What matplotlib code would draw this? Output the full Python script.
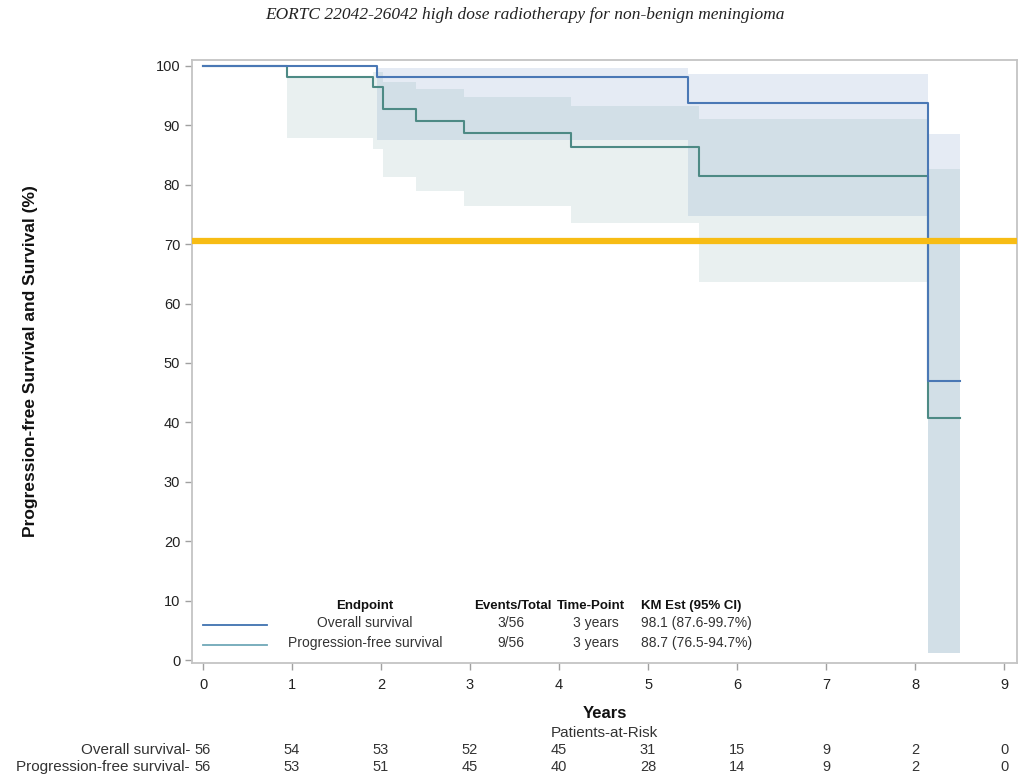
import matplotlib
matplotlib.use('Agg')
import matplotlib.pyplot as plt
from matplotlib.lines import Line2D
from matplotlib.transforms import blended_transform_factory

plt.rcParams['font.family'] = ['Liberation Sans', 'DejaVu Sans']

# Kaplan-Meier step data
os_time  = [0, 1.95, 5.45, 8.15, 8.51]
os_surv  = [100, 98.1, 93.7, 47.0, 47.0]
os_lower = [100, 87.6, 74.7, 1.2, 1.2]
os_upper = [100, 99.7, 98.6, 88.5, 88.5]

pfs_time  = [0, 0.94, 1.91, 2.02, 2.39, 2.93, 4.13, 5.57, 8.15, 8.51]
pfs_surv  = [100, 98.2, 96.4, 92.7, 90.8, 88.7, 86.4, 81.4, 40.7, 40.7]
pfs_lower = [100, 87.9, 86.0, 81.3, 78.9, 76.5, 73.6, 63.7, 1.2, 1.2]
pfs_upper = [100, 98.2, 99.0, 97.3, 96.1, 94.7, 93.2, 91.0, 82.6, 82.6]

threshold = 70.5

risk_years = [0, 1, 2, 3, 4, 5, 6, 7, 8, 9]
risk_os  = [56, 54, 53, 52, 45, 31, 15, 9, 2, 0]
risk_pfs = [56, 53, 51, 45, 40, 28, 14, 9, 2, 0]

legend_rows = [
    ('Overall survival', '3/56', '3 years', '98.1 (87.6-99.7%)'),
    ('Progression-free survival', '9/56', '3 years', '88.7 (76.5-94.7%)'),
]

OS_COLOR = '#4a78b5'
PFS_COLOR = '#4d8a85'

W, H = 1025, 778
fig = plt.figure(figsize=(W / 100, H / 100), dpi=100)
ax = fig.add_axes([192 / W, 1 - 663 / H, 825 / W, 603 / H])

# confidence bands
ax.fill_between(pfs_time, pfs_lower, pfs_upper, step='post',
                color=PFS_COLOR, alpha=0.12, lw=0)
ax.fill_between(os_time, os_lower, os_upper, step='post',
                color=OS_COLOR, alpha=0.14, lw=0)

# survival curves
ax.step(pfs_time, pfs_surv, where='post', color=PFS_COLOR, lw=1.5)
ax.step(os_time, os_surv, where='post', color=OS_COLOR, lw=1.5)

ax.axhline(threshold, color='#f7bc14', lw=4.5, zorder=5)

ax.set_xlim(-0.124, 9.146)
ax.set_ylim(-0.5, 101.0)
ax.set_xticks(range(0, 10))
ax.set_yticks(range(0, 101, 10))
ax.tick_params(axis='both', direction='out', length=5, width=1,
               color='#a0a0a0', labelsize=10.5, labelcolor='#222222')
ax.tick_params(axis='x', pad=6)
for sp in ax.spines.values():
    sp.set_color('#c4c4c4')
    sp.set_linewidth(1.3)

def fy(y):
    return 1 - y / H

fig.text(31 / W, fy(361.5), 'Progression-free Survival and Survival (%)',
         rotation=90, fontsize=12.5, fontweight='bold', ha='center',
         va='center', color='#111111')

fig.text(525 / W, fy(15),
         'EORTC 22042-26042 high dose radiotherapy for non-benign meningioma',
         family=['Liberation Serif', 'DejaVu Serif'], style='italic',
         fontsize=12.5, ha='center', va='center', color='#222222')

# in-plot legend table
hdr = dict(fontsize=9.5, fontweight='bold', va='center', color='#111111')
fig.text(365 / W, fy(606), 'Endpoint', ha='center', **hdr)
fig.text(513 / W, fy(606), 'Events/Total', ha='center', **hdr)
fig.text(591 / W, fy(606), 'Time-Point', ha='center', **hdr)
fig.text(641 / W, fy(606), 'KM Est (95% CI)', ha='left', **hdr)

row_y = [623, 643]
line_colors = ['#3f72b0', '#6fa8b8']
for (name, ev, tp, km), y, c in zip(legend_rows, row_y, line_colors):
    fig.add_artist(Line2D([203 / W, 267 / W], [fy(y + 2), fy(y + 2)],
                          color=c, lw=1.3))
    rkw = dict(fontsize=10, va='center', color='#333333')
    fig.text(365 / W, fy(y), name, ha='center', **rkw)
    fig.text(511 / W, fy(y), ev, ha='center', **rkw)
    fig.text(619 / W, fy(y), tp, ha='right', **rkw)
    fig.text(641 / W, fy(y), km, ha='left', **rkw)

# x label and patients at risk
fig.text(604.5 / W, fy(713), 'Years', ha='center', va='center',
         fontsize=12, fontweight='bold', color='#111111')
fig.text(604.5 / W, fy(733), 'Patients-at-Risk', ha='center', va='center',
         fontsize=11, color='#333333')

trans = blended_transform_factory(ax.transData, fig.transFigure)
for label, counts, y in [('Overall survival-', risk_os, 750),
                         ('Progression-free survival-', risk_pfs, 767)]:
    fig.text(190 / W, fy(y), label, ha='right', va='center',
             fontsize=11, color='#333333')
    for yr, n in zip(risk_years, counts):
        ax.text(yr, fy(y), str(n), transform=trans, ha='center',
                va='center', fontsize=10.5, color='#333333')

fig.savefig('out.png', dpi=100)
